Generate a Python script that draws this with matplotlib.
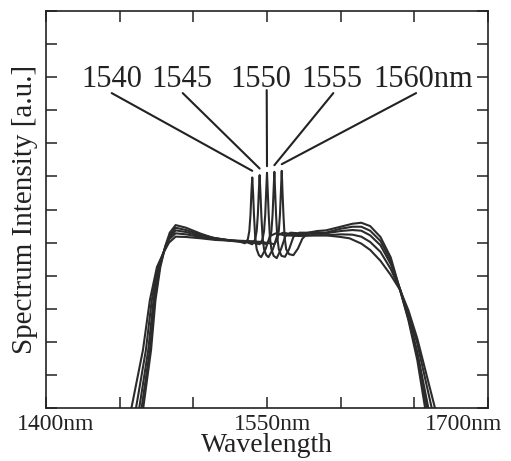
import matplotlib
matplotlib.use("Agg")
import matplotlib.pyplot as plt
import matplotlib.transforms as mtransforms

plt.rcParams['font.family'] = ['Liberation Serif', 'DejaVu Serif']

# pump wavelengths (nm) and their labels
pumps = [1540, 1545, 1550, 1555, 1560]
pump_labels = ["1540", "1545", "1550", "1555", "1560nm"]

# spectra: wavelength (nm) / intensity (a.u.)
wl_1540 = [1465.4, 1466.0, 1471.3, 1474.3, 1477.6, 1481.0, 1484.0, 1488, 1495, 1505, 1513,
           1520, 1526, 1532, 1535, 1537, 1538, 1538.8, 1539.4, 1540, 1540.6, 1541.2, 1542, 1543,
           1544.5, 1546, 1549, 1552, 1556, 1562,
           1572, 1582, 1590, 1600, 1606, 1614, 1620, 1627, 1634, 1640.3, 1646, 1652, 1664, 1665]
int_1540 = [-0.4, 0, 1.75, 3.26, 4.26, 4.9, 5.3, 5.53, 5.45, 5.27, 5.15,
            5.1, 5.05, 5.02, 4.98, 5.1, 5.35, 5.85, 6.5, 6.97, 6.45, 5.8, 5.15, 4.8,
            4.62, 4.56, 4.8, 5.2, 5.28, 5.22,
            5.2, 5.22, 5.22, 5.17, 5.13, 4.97, 4.78, 4.45, 4.02, 3.57, 2.95, 2.1, 0, -0.4]

wl_1545 = [1464.3, 1464.9, 1470.5, 1473.8, 1477.2, 1480.8, 1484.0, 1488, 1495, 1505, 1515,
           1525, 1531, 1537, 1540, 1542, 1543, 1543.8, 1544.4, 1545, 1545.6, 1546.2, 1547, 1548,
           1549.5, 1551, 1554, 1557, 1561, 1567,
           1577, 1590, 1600, 1608, 1614, 1620, 1627, 1634, 1640.3, 1646, 1652, 1661.8, 1662.8]
int_1545 = [-0.4, 0, 1.75, 3.26, 4.26, 4.85, 5.22, 5.45, 5.38, 5.24, 5.13,
            5.07, 5.04, 5.0, 4.95, 5.1, 5.35, 5.85, 6.5, 7.04, 6.45, 5.8, 5.15, 4.8,
            4.62, 4.56, 4.8, 5.22, 5.3, 5.25,
            5.22, 5.22, 5.25, 5.24, 5.18, 5.02, 4.72, 4.2, 3.58, 2.85, 1.95, 0, -0.4]

wl_1550 = [1462.7, 1463.3, 1469.4, 1473.0, 1476.6, 1480.5, 1483.8, 1488, 1495, 1505, 1515, 1525,
           1530, 1536, 1542, 1545, 1547, 1548, 1548.8, 1549.4, 1550, 1550.6, 1551.2, 1552, 1553,
           1554.5, 1556.6, 1559.5, 1562.5, 1566, 1572,
           1582, 1590, 1600, 1608, 1614, 1620, 1627, 1634, 1640.3, 1646, 1652, 1659.5, 1660.5]
int_1550 = [-0.4, 0, 1.75, 3.26, 4.26, 4.8, 5.15, 5.37, 5.32, 5.2, 5.12, 5.07,
            5.05, 5.03, 4.98, 4.95, 5.1, 5.35, 5.85, 6.5, 7.11, 6.45, 5.8, 5.15, 4.8,
            4.6, 4.53, 4.8, 5.2, 5.3, 5.28,
            5.27, 5.28, 5.35, 5.38, 5.36, 5.22, 4.92, 4.35, 3.6, 2.75, 1.7, 0, -0.4]

wl_1555 = [1460.5, 1461.1, 1467.8, 1471.8, 1476.0, 1480.2, 1483.6, 1488, 1495, 1505, 1515, 1525,
           1535, 1541, 1547, 1550, 1552, 1553, 1553.8, 1554.4, 1555, 1555.6, 1556.2, 1557, 1558,
           1559.8, 1562.2, 1565, 1568, 1572, 1578,
           1585, 1590, 1600, 1608, 1614, 1620, 1627, 1634, 1640.3, 1646, 1652, 1658.4, 1659.4]
int_1555 = [-0.4, 0, 1.75, 3.26, 4.26, 4.75, 5.1, 5.28, 5.25, 5.17, 5.1, 5.06,
            5.05, 5.02, 4.98, 4.95, 5.1, 5.35, 5.85, 6.5, 7.14, 6.45, 5.8, 5.15, 4.8,
            4.6, 4.57, 4.8, 5.18, 5.3, 5.3,
            5.3, 5.3, 5.42, 5.48, 5.48, 5.36, 5.05, 4.45, 3.57, 2.7, 1.6, 0, -0.4]

wl_1560 = [1457.4, 1458.0, 1465.8, 1470.5, 1475.3, 1479.8, 1483.5, 1488, 1495, 1505, 1515, 1525, 1532,
           1540, 1546, 1552, 1555, 1557, 1558, 1558.8, 1559.4, 1560, 1560.6, 1561.2, 1562, 1563,
           1565, 1567.9, 1571, 1574, 1578, 1584,
           1590, 1600, 1608, 1614, 1620, 1627, 1634, 1640.3, 1646, 1652, 1657.3, 1658.2]
int_1560 = [-0.4, 0, 1.75, 3.26, 4.26, 4.7, 5.0, 5.18, 5.17, 5.13, 5.08, 5.06, 5.05,
            5.04, 5.02, 4.98, 4.95, 5.1, 5.35, 5.85, 6.5, 7.17, 6.45, 5.8, 5.15, 4.8,
            4.65, 4.62, 4.82, 5.12, 5.3, 5.35,
            5.37, 5.48, 5.57, 5.6, 5.5, 5.17, 4.55, 3.57, 2.65, 1.45, 0, -0.4]

spectra = [(wl_1540, int_1540), (wl_1545, int_1545), (wl_1550, int_1550),
           (wl_1555, int_1555), (wl_1560, int_1560)]
peak_heights = [max(s[1]) for s in spectra]

# label text positions (left edge, baseline) and leader line starts
label_x = [1424.2, 1471.7, 1524.9, 1573.6, 1621.9]
label_y = 9.70
leader_x = [1444.6, 1492.8, 1549.8, 1595.0, 1651.2]
leader_y = [9.52, 9.52, 9.61, 9.52, 9.52]

x_ticks = [1400, 1450, 1500, 1550, 1600, 1650, 1700]
x_tick_labels = ["1400nm", "", "", "1550nm", "", "", "1700nm"]
x_label_shift_px = [10, 0, 0, 6, 0, 0, -24]

fig = plt.figure(figsize=(5.11, 4.61), dpi=100)
ax = fig.add_axes([0.090, 0.115, 0.865, 0.861])

for wl, inten in spectra:
    ax.plot(wl, inten, color='#2b2b2b', lw=1.5)

for p, pk, lab, lx, sx, sy in zip(pumps, peak_heights, pump_labels, label_x, leader_x, leader_y):
    ax.text(lx, label_y, lab, fontsize=22, ha='left', va='baseline', color='#222222')
    ax.annotate('', xy=(p, pk + 0.2), xytext=(sx, sy),
                arrowprops=dict(arrowstyle='-', lw=1.5, color='#222222', shrinkA=0, shrinkB=0))

ax.set_xlim(1400, 1700)
ax.set_ylim(0, 12)
ax.set_xticks(x_ticks)
ax.set_xticklabels(x_tick_labels)
ax.set_yticks(range(0, 13))
ax.set_yticklabels([])
ax.tick_params(direction='in', top=True, right=True, length=8, width=1.1,
               labelsize=17, pad=4, colors='#222222')
for lab, dx in zip(ax.get_xticklabels(), x_label_shift_px):
    lab.set_transform(lab.get_transform() +
                      mtransforms.ScaledTranslation(dx / 100, 0, fig.dpi_scale_trans))

for sp in ax.spines.values():
    sp.set_linewidth(1.2)
    sp.set_color('#222222')

ax.set_xlabel("Wavelength", fontsize=20, labelpad=-1, color='#222222')
ax.set_ylabel("Spectrum Intensity [a.u.]", fontsize=21, labelpad=2, color='#222222')

fig.savefig("out.png", dpi=100)
